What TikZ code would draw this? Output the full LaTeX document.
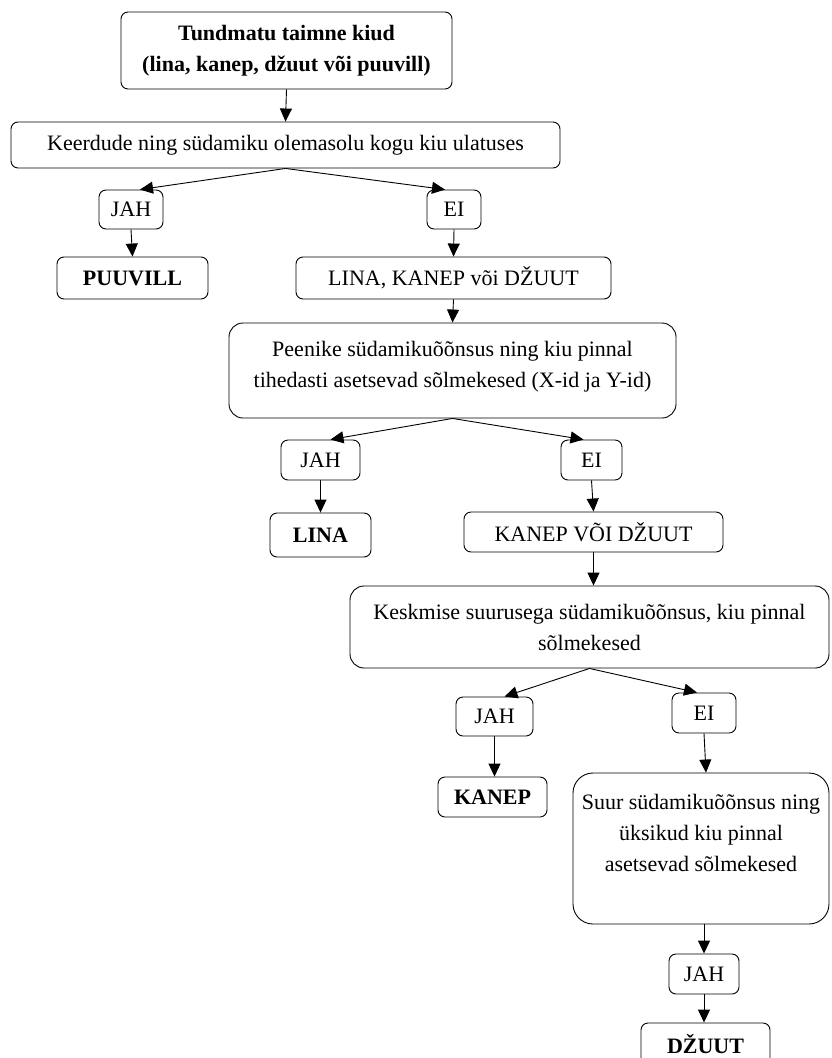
\documentclass[tikz,border=0pt]{standalone}
\usepackage{fontspec}
\setmainfont{Liberation Serif}
\usetikzlibrary{arrows.meta}

\begin{document}
\begin{tikzpicture}[x=1pt, y=-1pt, line width=0.9pt,
	every node/.style={font=\fontsize{22}{31}\selectfont},
	box/.style={draw, rounded corners=7pt, align=center, inner sep=0pt},
	bigbox/.style={box, rounded corners=14pt},
	arr/.style={-{Triangle[length=13pt,width=12pt]}}]
			\useasboundingbox (0,0) rectangle (831,1058);
			% questions and answers
			\node[box, minimum width=331pt, minimum height=77pt, font=\fontsize{22}{31}\selectfont\bfseries] (start) at (286.5,50.5) {Tundmatu taimne kiud\\(lina, kanep, džuut või puuvill)};
			\node[box, minimum width=549pt, minimum height=46pt] (q1) at (285.5,145) {Keerdude ning südamiku olemasolu kogu kiu ulatuses};
			\node[box, minimum width=64pt, minimum height=39pt] (jah1) at (131,209.5) {JAH};
			\node[box, minimum width=54pt, minimum height=39pt] (ei1) at (454,209.5) {EI};
			\node[box, minimum width=151pt, minimum height=42pt, font=\fontsize{22}{31}\selectfont\bfseries] (puuvill) at (132.5,278) {PUUVILL};
			\node[box, minimum width=315pt, minimum height=42pt] (r1) at (453.5,278) {LINA, KANEP või DŽUUT};
			\node[bigbox, minimum width=447pt, minimum height=95pt] (q2) at (452.5,370.5) {Peenike südamikuõõnsus ning kiu pinnal\\tihedasti asetsevad sõlmekesed (X-id ja Y-id)\\[-18pt]\mbox{}};
			\node[box, minimum width=79pt, minimum height=40pt] (jah2) at (320.5,460) {JAH};
			\node[box, minimum width=61pt, minimum height=40pt] (ei2) at (591.5,460) {EI};
			\node[box, minimum width=101pt, minimum height=44pt, font=\fontsize{22}{31}\selectfont\bfseries] (lina) at (320.5,535) {LINA};
			\node[box, minimum width=259pt, minimum height=40pt] (r2) at (593.5,532) {KANEP VÕI DŽUUT};
			\node[bigbox, minimum width=479pt, minimum height=82pt] (q3) at (589.5,627) {Keskmise suurusega südamikuõõnsus, kiu pinnal\\sõlmekesed};
			\node[box, minimum width=77pt, minimum height=39pt] (jah3) at (494.5,716.5) {JAH};
			\node[box, minimum width=64pt, minimum height=40pt] (ei3) at (704,713) {EI};
			\node[box, minimum width=109pt, minimum height=40pt, font=\fontsize{22}{31}\selectfont\bfseries] (kanep) at (492.5,797) {KANEP};
			\node[bigbox, rounded corners=20pt, minimum width=256pt, minimum height=151pt] (q4) at (701,848.5) {Suur südamikuõõnsus ning\\üksikud kiu pinnal\\asetsevad sõlmekesed\\\mbox{}};
			\node[box, minimum width=70pt, minimum height=40pt] (jah4) at (704,974) {JAH};
			\node[box, minimum width=129pt, minimum height=42pt, font=\fontsize{22}{31}\selectfont\bfseries] (dzuut) at (705.5,1044) {DŽUUT};
			% arrows
			\draw[arr] (start.south) -- (q1.north);
			\draw[arr] (q1.south) -- ([xshift=9pt]jah1.north);
			\draw[arr] (q1.south) -- ([xshift=-9pt]ei1.north);
			\draw[arr] (jah1.south) -- (puuvill.north);
			\draw[arr] (ei1.south) -- (r1.north);
			\draw[arr] (r1.south) -- (q2.north);
			\draw[arr] (q2.south) -- ([xshift=10pt]jah2.north);
			\draw[arr] (q2.south) -- ([xshift=-8pt]ei2.north);
			\draw[arr] (jah2.south) -- (lina.north);
			\draw[arr] (ei2.south) -- (r2.north);
			\draw[arr] (r2.south) -- (r2.south |- q3.north);
			\draw[arr] (q3.south) -- ([xshift=10pt]jah3.north);
			\draw[arr] (q3.south) -- ([xshift=-7pt]ei3.north);
			\draw[arr] (jah3.south) -- (jah3.south |- kanep.north);
			\draw[arr] (ei3.south) -- ([xshift=2pt]ei3.south |- q4.north);
			\draw[arr] (jah4.north |- q4.south) -- (jah4.north);
			\draw[arr] (jah4.south) -- (jah4.south |- dzuut.north);
\end{tikzpicture}
\end{document}
